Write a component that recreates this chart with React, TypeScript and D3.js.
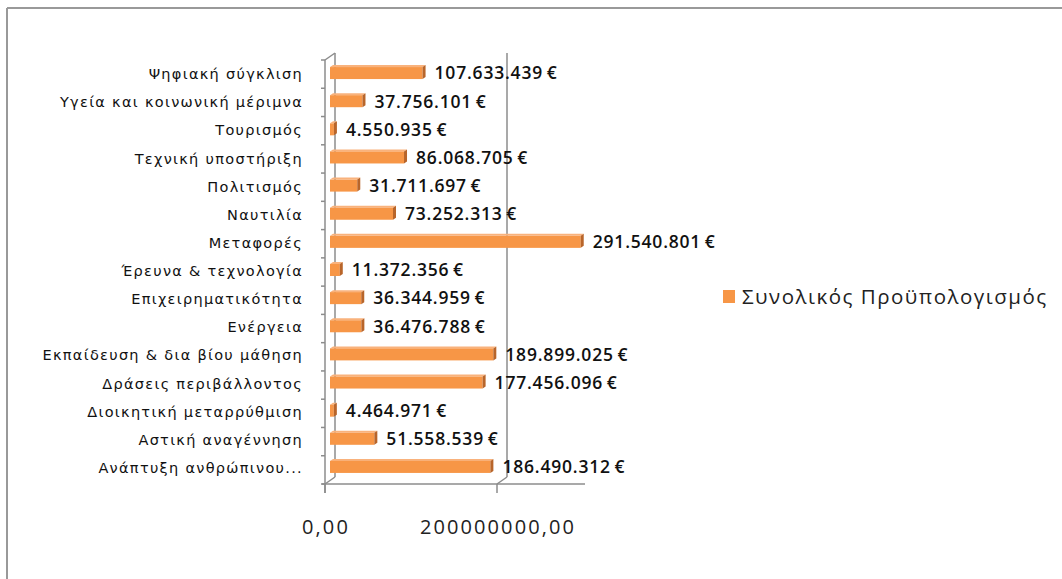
import React from "react";
import * as d3 from "d3";

const categories = [
  "Ψηφιακή σύγκλιση",
  "Υγεία και κοινωνική μέριμνα",
  "Τουρισμός",
  "Τεχνική υποστήριξη",
  "Πολιτισμός",
  "Ναυτιλία",
  "Μεταφορές",
  "Έρευνα & τεχνολογία",
  "Επιχειρηματικότητα",
  "Ενέργεια",
  "Εκπαίδευση & δια βίου μάθηση",
  "Δράσεις περιβάλλοντος",
  "Διοικητική μεταρρύθμιση",
  "Αστική αναγέννηση",
  "Ανάπτυξη ανθρώπινου...",
];

const budget = [
  107633439, 37756101, 4550935, 86068705, 31711697, 73252313, 291540801,
  11372356, 36344959, 36476788, 189899025, 177456096, 4464971, 51558539,
  186490312,
];

const xTicks = [0, 200000000];
const seriesName = "Συνολικός Προϋπολογισμός";

const W = 1062;
const H = 579;

const valueLocale = d3.formatLocale({
  decimal: ",",
  thousands: ".",
  grouping: [3],
  currency: ["", "€"],
});
const tickLocale = d3.formatLocale({
  decimal: ",",
  thousands: "",
  grouping: [3],
  currency: ["", ""],
});
const fmtValue = (v: number) => valueLocale.format(",.0f")(v) + "\u2009€";
const fmtTick = tickLocale.format(".2f");

export default function App() {
  // 3D depth offset
  const DX = 10;
  const DY = -7;
  const frontLeft = 325;
  const frontBottom = 484;
  const topY = 60;

  const x = d3.scaleLinear().domain([0, 200000000]).range([0, 172]);
  const y = d3
    .scaleBand<string>()
    .domain(categories)
    .range([59, 481])
    .paddingInner(0)
    .paddingOuter(0);

  const barBase = frontLeft + DX / 2;
  const barH = 12;
  const grey = "#8c8c8c";
  const orange = "#F79646";

  return (
    <div style={{ position: "fixed", left: 0, top: 0 }}>
      <svg width={W} height={H} style={{ display: "block", background: "#fff" }}>
        {/* chart frame */}
        <line x1={7} y1={8} x2={W} y2={8} stroke="#999" strokeWidth={2} />
        <line x1={7} y1={8} x2={7} y2={H} stroke="#999" strokeWidth={2} />

        {/* back wall left edge and top/bottom diagonals */}
        <line x1={frontLeft + DX} y1={topY + DY} x2={frontLeft + DX} y2={frontBottom + DY} stroke={grey} strokeWidth={1.5} />
        <line x1={frontLeft} y1={topY} x2={frontLeft + DX} y2={topY + DY} stroke={grey} strokeWidth={1.5} />
        <line x1={frontLeft} y1={frontBottom} x2={frontLeft + DX} y2={frontBottom + DY} stroke={grey} strokeWidth={1.5} />

        {/* gridlines (back wall) */}
        {xTicks.slice(1).map((t) => (
          <g key={"g" + t}>
            <line x1={frontLeft + DX + x(t)} y1={topY + DY} x2={frontLeft + DX + x(t)} y2={frontBottom + DY} stroke={grey} strokeWidth={1.5} />
            <line x1={frontLeft + x(t)} y1={frontBottom} x2={frontLeft + DX + x(t)} y2={frontBottom + DY} stroke={grey} strokeWidth={1.5} />
          </g>
        ))}

        {/* front axes */}
        <line x1={frontLeft} y1={topY} x2={frontLeft} y2={frontBottom + 9} stroke={grey} strokeWidth={1.5} />
        <line x1={frontLeft - 3} y1={frontBottom} x2={frontLeft + x(300000000) + 2} y2={frontBottom} stroke={grey} strokeWidth={1.5} />
        {categories.map((c, i) => (
          <line key={"t" + c} x1={frontLeft - 4} y1={topY + (i * (frontBottom - topY)) / categories.length} x2={frontLeft} y2={topY + (i * (frontBottom - topY)) / categories.length} stroke={grey} strokeWidth={1.5} />
        ))}
        <line x1={frontLeft - 4} y1={frontBottom} x2={frontLeft} y2={frontBottom} stroke={grey} strokeWidth={1.5} />
        {xTicks.map((t) => (
          <line key={"xt" + t} x1={frontLeft + x(t)} y1={frontBottom} x2={frontLeft + x(t)} y2={frontBottom + 9} stroke={grey} strokeWidth={1.5} />
        ))}

        {/* bars */}
        {categories.map((c, i) => {
          const cy = y(c)! + y.bandwidth() / 2;
          const x0 = barBase;
          const x1 = barBase + x(budget[i]);
          const t = cy - barH / 2;
          const b = cy + barH / 2;
          const s = 3;
          return (
            <g key={"b" + c}>
              <polygon points={`${x0},${t} ${x0 + s},${t - 2} ${x1 + s},${t - 2} ${x1},${t}`} fill="#F9B27C" />
              <rect x={x0} y={t} width={x1 - x0} height={barH} fill={orange} />
              <polygon points={`${x1},${t} ${x1 + s},${t - 2} ${x1 + s},${b - 2} ${x1},${b}`} fill="#B8652A" />
              <text
                x={x1 + s + 9}
                y={cy}
                dy="0.36em"
                fontFamily="'Open Sans', sans-serif"
                fontWeight={600}
                fontSize={17.5}
                letterSpacing={0.8}
                fill="#111"
              >
                {fmtValue(budget[i])}
              </text>
            </g>
          );
        })}

        {/* category labels */}
        {categories.map((c) => (
          <text
            key={"l" + c}
            x={303}
            y={y(c)! + y.bandwidth() / 2 + 1}
            dy="0.35em"
            textAnchor="end"
            fontFamily="'DejaVu Sans', sans-serif"
            fontSize={14.5}
            letterSpacing={1.3}
            fill="#111"
          >
            {c}
          </text>
        ))}

        {/* x tick labels */}
        {xTicks.map((t) => (
          <text
            key={"xl" + t}
            x={frontLeft + x(t) + 1}
            y={527}
            dy="0.35em"
            textAnchor="middle"
            fontFamily="'Open Sans', sans-serif"
            fontSize={20}
            letterSpacing={2.1}
            fill="#222"
          >
            {fmtTick(t)}
          </text>
        ))}

        {/* legend */}
        <rect x={723} y={290} width={12} height={13} fill={orange} />
        <text
          x={742}
          y={297}
          dy="0.35em"
          fontFamily="'Open Sans', sans-serif"
          fontSize={20.5}
          letterSpacing={1.5}
          fill="#222"
        >
          {seriesName}
        </text>
      </svg>
    </div>
  );
}
